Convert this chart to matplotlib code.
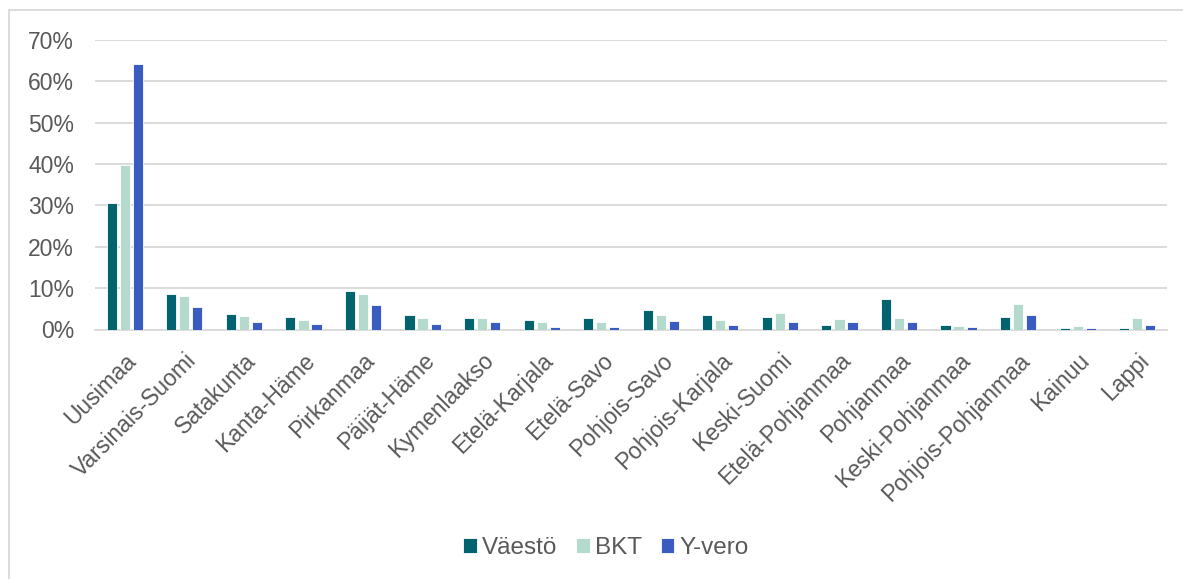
import matplotlib.pyplot as plt
import numpy as np
from matplotlib.patches import Rectangle
from matplotlib.ticker import PercentFormatter

plt.rcParams['font.family'] = ['Liberation Sans', 'DejaVu Sans']

maakunnat = ['Uusimaa', 'Varsinais-Suomi', 'Satakunta', 'Kanta-Häme', 'Pirkanmaa',
             'Päijät-Häme', 'Kymenlaakso', 'Etelä-Karjala', 'Etelä-Savo', 'Pohjois-Savo',
             'Pohjois-Karjala', 'Keski-Suomi', 'Etelä-Pohjanmaa', 'Pohjanmaa',
             'Keski-Pohjanmaa', 'Pohjois-Pohjanmaa', 'Kainuu', 'Lappi']

# osuudet prosentteina
vaesto = [30.7, 8.5, 3.8, 3.0, 9.3, 3.6, 2.8, 2.3, 2.9, 4.8, 3.4, 3.1, 1.0, 7.4, 1.1, 3.1, 0.3, 0.3]
bkt = [39.7, 8.0, 3.2, 2.3, 8.5, 2.7, 2.7, 1.9, 1.8, 3.6, 2.3, 4.0, 2.6, 2.9, 0.8, 6.1, 0.9, 2.7]
yvero = [64.2, 5.4, 1.7, 1.3, 5.9, 1.4, 1.7, 0.5, 0.6, 2.0, 1.1, 1.7, 1.8, 1.9, 0.6, 3.4, 0.3, 1.2]

sarjat = ['Väestö', 'BKT', 'Y-vero']
varit = ['#00636E', '#B4D9CD', '#3A5BC0']
teksti = '#595959'

fig = plt.figure(figsize=(11.83, 5.79), dpi=100)
ax = fig.add_axes([95 / 1183, 1 - 329.5 / 579, (1167 - 95) / 1183, (329.5 - 40) / 579])

x = np.arange(len(maakunnat))
width = 0.17
step = 0.22
for i, (nimi, arvot) in enumerate(zip(sarjat, [vaesto, bkt, yvero])):
    ax.bar(x + (i - 1) * step, arvot, width, color=varit[i], label=nimi,
           edgecolor='white', linewidth=0.6, zorder=3)

ax.set_xlim(-0.5, len(maakunnat) - 0.5)
ax.set_ylim(0, 70)
ax.set_yticks(np.arange(0, 71, 10))
ax.yaxis.set_major_formatter(PercentFormatter(decimals=0))
ax.grid(axis='y', color='#D9D9D9', linewidth=1.3, zorder=0)
for s in ['top', 'right', 'left']:
    ax.spines[s].set_visible(False)
ax.spines['bottom'].set_color('#D9D9D9')
ax.spines['bottom'].set_linewidth(1.3)
ax.tick_params(axis='both', length=0, colors=teksti, labelsize=16.5)
ax.tick_params(axis='y', pad=15)

ax.set_xticks(x)
ax.set_xticklabels(maakunnat, rotation=45, ha='right', rotation_mode='anchor', color=teksti)
ax.tick_params(axis='x', pad=14)

fig.legend(handles=ax.containers, labels=sarjat, loc='center',
           bbox_to_anchor=(606 / 1183, 1 - 548 / 579),
           ncol=3, frameon=False, fontsize=17.5, handlelength=0.55, handleheight=0.55,
           handletextpad=0.2, columnspacing=0.8, labelcolor=teksti)

# kaavion reunus
fig.patches.append(Rectangle((9 / 1183, -0.05), 1.1, 1 - 10 / 579 + 0.05, transform=fig.transFigure,
                             fill=False, edgecolor='#D9D9D9', linewidth=1.3))

fig.savefig('out.png', dpi=100, facecolor='white')
